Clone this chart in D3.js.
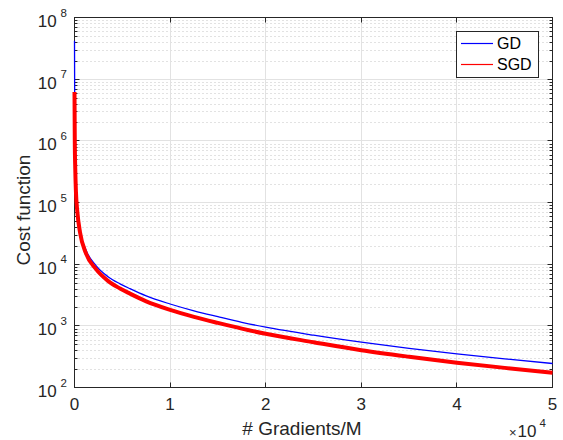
<!DOCTYPE html>
<html>
<head>
<meta charset="utf-8">
<script src="https://cdn.jsdelivr.net/npm/d3@7"></script>
<style>
  body { margin: 0; background: #fff; }
  svg { display: block; font-family: "Liberation Sans", Arial, Helvetica, sans-serif; }
</style>
</head>
<body>
<svg id="chart" width="563" height="440"></svg>
<script>
var iters = [0, 30, 80, 150, 300, 575, 1200, 2250, 3500, 4760, 5800, 7500,
             10000, 12500, 15000, 17500, 20000, 25000, 30000, 35000, 40000, 45000, 50000];
// cost values, GD (blue) and SGD (red)
var gdCost  = [4.2e7, 1.5e6, 4e5, 1.6e5, 8e4, 3.6e4, 1.7e4, 9500, 6270, 4800, 4000, 3050,
               2260, 1750, 1406, 1140, 951, 705, 543, 432, 351, 291, 245];
var sgdCost = [6.2e6, 1e6, 3.5e5, 1.5e5, 7e4, 3.3e4, 1.5e4, 8300, 5360, 4030, 3330, 2500,
               1820, 1400, 1115, 900, 743, 542, 402, 315, 253, 208, 173];
var xTicks = [0, 10000, 20000, 30000, 40000, 50000];
var xTickLabels = ["0", "1", "2", "3", "4", "5"];
var yDecades = [2, 3, 4, 5, 6, 7, 8];
var seriesNames = ["GD", "SGD"];
var seriesColors = ["#0000ff", "#ff0000"];

var svg = d3.select("#chart");
// plot box (note: "top" is taken by window.top, so use other names)
var pL = 74.5, pR = 552.5, pT = 17.5, pB = 387.5;
var ink = "#262626";

var x = d3.scaleLinear().domain([0, 50000]).range([pL, pR]);
var y = d3.scaleLog().domain([1e2, 1e8]).range([pB, pT]);

// minor grid (dotted) for the log axis
var minors = [];
yDecades.slice(0, -1).forEach(function(e) {
  for (var k = 2; k <= 9; k++) minors.push(k * Math.pow(10, e));
});
var grid = svg.append("g");
grid.selectAll("line.minor").data(minors).enter().append("line")
  .attr("x1", pL).attr("x2", pR)
  .attr("y1", function(d) { return Math.round(y(d)) + 0.5; })
  .attr("y2", function(d) { return Math.round(y(d)) + 0.5; })
  .attr("stroke", "#c4c4c4").attr("stroke-dasharray", "1,3");

// major grid
grid.selectAll("line.ymaj").data(yDecades).enter().append("line")
  .attr("x1", pL).attr("x2", pR)
  .attr("y1", function(d) { return Math.round(y(Math.pow(10, d)) - 0.5) + 0.5; })
  .attr("y2", function(d) { return Math.round(y(Math.pow(10, d)) - 0.5) + 0.5; })
  .attr("stroke", "#e2e2e2");
grid.selectAll("line.xmaj").data(xTicks).enter().append("line")
  .attr("x1", function(d) { return Math.round(x(d) - 0.5) + 0.5; })
  .attr("x2", function(d) { return Math.round(x(d) - 0.5) + 0.5; })
  .attr("y1", pT).attr("y2", pB)
  .attr("stroke", "#e2e2e2");

// axes box
svg.append("rect")
  .attr("x", pL).attr("y", pT)
  .attr("width", pR - pL).attr("height", pB - pT)
  .attr("fill", "none").attr("stroke", ink);

// ticks inside (bottom/top)
var ticks = svg.append("g").attr("stroke", ink);
xTicks.forEach(function(t) {
  var px = Math.round(x(t) - 0.5) + 0.5;
  ticks.append("line").attr("x1", px).attr("x2", px).attr("y1", pB).attr("y2", pB - 5);
  ticks.append("line").attr("x1", px).attr("x2", px).attr("y1", pT).attr("y2", pT + 5);
});
// ticks inside (left/right)
yDecades.forEach(function(e) {
  var py = Math.round(y(Math.pow(10, e)) - 0.5) + 0.5;
  ticks.append("line").attr("x1", pL).attr("x2", pL + 5).attr("y1", py).attr("y2", py);
  ticks.append("line").attr("x1", pR).attr("x2", pR - 5).attr("y1", py).attr("y2", py);
});
minors.forEach(function(m) {
  var py = Math.round(y(m)) + 0.5;
  ticks.append("line").attr("x1", pL).attr("x2", pL + 3).attr("y1", py).attr("y2", py);
  ticks.append("line").attr("x1", pR).attr("x2", pR - 3).attr("y1", py).attr("y2", py);
});

// curves, drawn over the box so the steep start shows on the left axis
var line = d3.line()
  .x(function(d) { return x(d[0]); })
  .y(function(d) { return y(d[1]); })
  .curve(d3.curveMonotoneX);

svg.append("path")
  .datum(d3.zip(iters, gdCost))
  .attr("d", line).attr("fill", "none")
  .attr("stroke", seriesColors[0]).attr("stroke-width", 1.3);
svg.append("path")
  .datum(d3.zip(iters, sgdCost))
  .attr("d", line).attr("fill", "none")
  .attr("stroke", seriesColors[1]).attr("stroke-width", 4);

// tick labels
svg.selectAll("text.xt").data(xTicks).enter().append("text")
  .attr("x", function(d) { return x(d); })
  .attr("y", 410)
  .attr("text-anchor", "middle")
  .attr("font-size", 17).attr("fill", ink)
  .text(function(d, i) { return xTickLabels[i]; });

var yl = svg.selectAll("text.yt").data(yDecades).enter().append("text")
  .attr("x", 67)
  .attr("y", function(d) { return y(Math.pow(10, d)) + 9.5; })
  .attr("text-anchor", "end")
  .attr("font-size", 17).attr("fill", ink);
yl.append("tspan").text("10");
yl.append("tspan").attr("dx", 4).attr("dy", -10.5).attr("font-size", 11.5)
  .text(function(d) { return d; });

// exponent note under x axis
var ex = svg.append("text").attr("x", 509).attr("y", 437)
  .attr("font-size", 17).attr("fill", ink);
ex.append("tspan").attr("font-size", 13).text("\u00d7");
ex.append("tspan").attr("dx", 1).text("10");
ex.append("tspan").attr("dx", 3).attr("dy", -10).attr("font-size", 11.5).text("4");

// axis labels
svg.append("text").attr("x", 302).attr("y", 435)
  .attr("text-anchor", "middle").attr("font-size", 19).attr("fill", ink)
  .text("# Gradients/M");
svg.append("text")
  .attr("transform", "translate(30,210) rotate(-90)")
  .attr("text-anchor", "middle").attr("font-size", 19).attr("fill", ink)
  .text("Cost function");

// legend
var lg = svg.append("g");
lg.append("rect").attr("x", 456.5).attr("y", 31.5).attr("width", 82).attr("height", 46)
  .attr("fill", "#fff").attr("stroke", ink);
seriesNames.forEach(function(name, i) {
  var ly = 43.5 + i * 21;
  lg.append("line").attr("x1", 461).attr("x2", 493).attr("y1", ly).attr("y2", ly)
    .attr("stroke", seriesColors[i]).attr("stroke-width", 1.2);
  lg.append("text").attr("x", 497).attr("y", ly + 5.8)
    .attr("font-size", 16).attr("fill", "#000").text(name);
});
</script>
</body>
</html>
